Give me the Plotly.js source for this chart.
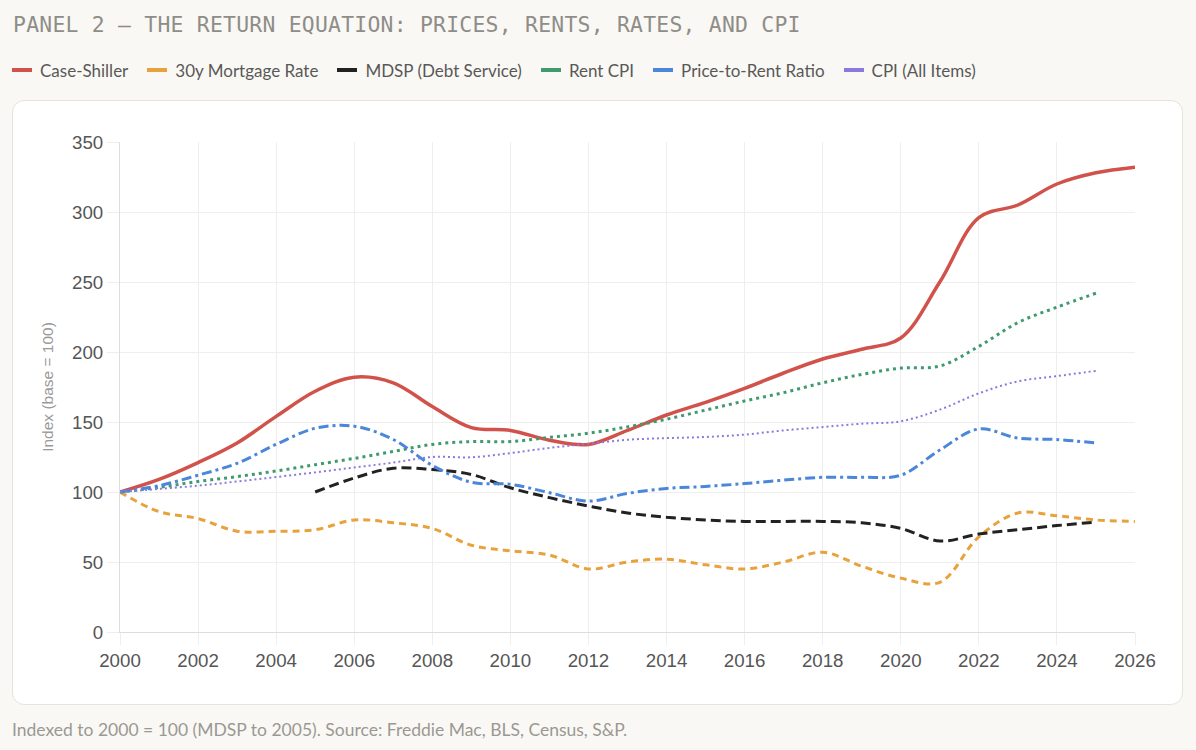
<!DOCTYPE html>
<html><head><meta charset="utf-8">
<script src="https://cdn.plot.ly/plotly-3.0.1.min.js"></script>
<style>
html,body{margin:0;padding:0;background:#faf8f4;width:1196px;height:750px;overflow:hidden;}
#title{position:absolute;left:13px;top:12px;line-height:25px;font-family:"DejaVu Sans Mono","Liberation Mono",monospace;font-size:21.4px;letter-spacing:0.25px;color:#8e8d88;white-space:nowrap;}
#legend{position:absolute;left:12px;top:58px;height:24px;font-family:Lato,"Noto Sans",sans-serif;font-size:17px;color:#585858;display:flex;white-space:nowrap;}
.item{display:flex;align-items:center;margin-right:19px}
.sw{width:20px;height:4px;margin-right:8px}
#card{position:absolute;left:12px;top:100px;width:1169px;height:603px;background:#fff;border:1px solid #e6e3dc;border-radius:12px;}
#chart{position:absolute;left:12px;top:100px;width:1171px;height:605px;}
#foot{position:absolute;left:12px;top:719px;font-family:Lato,"Noto Sans",sans-serif;font-size:17.5px;color:#9a9893;white-space:nowrap;}
</style></head>
<body>
<div id="title">PANEL 2 — THE RETURN EQUATION: PRICES, RENTS, RATES, AND CPI</div>
<div id="legend"></div>
<div id="card"></div>
<div id="chart"></div>
<div id="foot">Indexed to 2000 = 100 (MDSP to 2005). Source: Freddie Mac, BLS, Census, S&amp;P.</div>
<script>
const years = [2000,2001,2002,2003,2004,2005,2006,2007,2008,2009,2010,2011,2012,2013,2014,2015,2016,2017,2018,2019,2020,2021,2022,2023,2024,2025,2026];
const caseShiller = [100,109,121,135,154,172,182,178,161,146,144,137,134,144,155,164,174,185,195,202,210,250,296,305,320,328,332];
const mortgage = [100,86,81,72,72,73,80,78,74,62,58,55,45,50,52,48,45,50,57,47,38.5,35.5,68,85,83,80,79];
const mdsp = [null,null,null,null,null,100,110,117,116,112.5,103,96,90,85,82,80,79,79,79,78,74,65,70,73,76,78.5,null];
const rentCPI = [100,103.3,107.5,111,115,119.5,124,129,134,136,136,139,142,146.5,152,158.5,165,171,178,184,188.5,190,204,221,232,242,null];
const priceToRent = [100,104.5,112,120.5,134,145.5,147,137.5,119,107,105.5,99.5,93.5,99,102.5,104,106,108.5,110.5,110.5,112,130,145,138.5,137.5,135,null];
const cpiAll = [100,102.2,104.5,107.5,110.7,114,117.5,121,125,124.8,127.8,131.5,134.5,137.3,138.5,139.3,141,144,146.4,148.8,150.5,158.8,170.5,179,182.8,186.5,null];
const yTicks = [0,50,100,150,200,250,300,350];
const xTicks = [2000,2002,2004,2006,2008,2010,2012,2014,2016,2018,2020,2022,2024,2026];

const series = [
  {name:'Case-Shiller', y:caseShiller, color:'#d1524b', width:3.5, dash:'solid'},
  {name:'30y Mortgage Rate', y:mortgage, color:'#e8a23c', width:3, dash:'7px,5px'},
  {name:'MDSP (Debt Service)', y:mdsp, color:'#222222', width:3, dash:'10px,5px'},
  {name:'Rent CPI', y:rentCPI, color:'#3f9a6f', width:3, dash:'3px,4px'},
  {name:'Price-to-Rent Ratio', y:priceToRent, color:'#4a86d9', width:3, dash:'10px,4px,3px,4px'},
  {name:'CPI (All Items)', y:cpiAll, color:'#8b79e0', width:2, dash:'2px,3px'}
];

const leg = document.getElementById('legend');
series.forEach(s=>{
  const it=document.createElement('div'); it.className='item';
  const sw=document.createElement('div'); sw.className='sw'; sw.style.background=s.color;
  const tx=document.createElement('span'); tx.textContent=s.name;
  it.appendChild(sw); it.appendChild(tx); leg.appendChild(it);
});

const traces = series.map(s=>({
  x: years, y: s.y, name: s.name, type:'scatter', mode:'lines',
  line:{color:s.color, width:s.width, dash:s.dash, shape:'spline', smoothing:1},
  connectgaps:false, hoverinfo:'x+y+name'
}));

const tickFont = {family:'"Liberation Sans", Arial, sans-serif', size:18.7, color:'#555'};
const layout = {
  width:1171, height:605,
  margin:{l:108, r:48, t:42, b:73},
  paper_bgcolor:'rgba(0,0,0,0)', plot_bgcolor:'rgba(0,0,0,0)',
  showlegend:false,
  xaxis:{range:[2000,2026], tickvals:xTicks, ticktext:xTicks.map(String),
    showgrid:true, gridcolor:'#eeeeee', gridwidth:1, zeroline:false,
    showline:true, linecolor:'#dddddd', linewidth:1,
    ticks:'outside', ticklen:12, tickcolor:'#eeeeee',
    tickfont:tickFont},
  yaxis:{range:[0,350], tickvals:yTicks, ticktext:yTicks.map(String),
    showgrid:true, gridcolor:'#eeeeee', gridwidth:1, zeroline:false,
    showline:true, linecolor:'#dddddd', linewidth:1,
    ticks:'outside', ticklen:12, tickcolor:'#eeeeee',
    tickfont:tickFont,
    title:{text:'Index (base = 100)', standoff:14, font:{family:'"Liberation Sans", Arial, sans-serif', size:15.5, color:'#999'}}}
};
Plotly.newPlot('chart', traces, layout, {displayModeBar:false});
</script>
</body></html>
